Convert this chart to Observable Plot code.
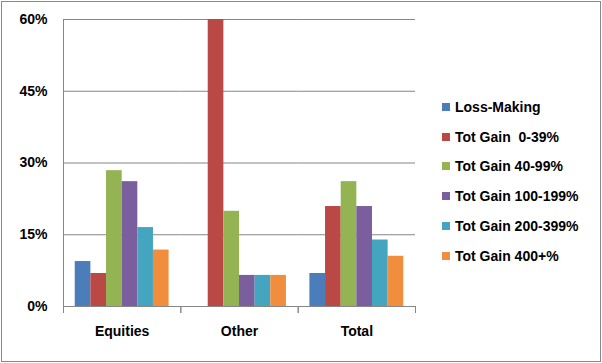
<!DOCTYPE html>
<html>
<head>
<meta charset="utf-8">
<script src="https://cdn.jsdelivr.net/npm/d3@7"></script>
<script src="https://cdn.jsdelivr.net/npm/@observablehq/plot@0.6"></script>
<style>
  html, body { margin: 0; padding: 0; background: #fff; }
  #wrap { position: relative; width: 602px; height: 363px; overflow: hidden; }
  #border { position: absolute; left: 1px; top: 1px; width: 598px; height: 359px; border: 1px solid #888; box-sizing: content-box; }
  #chart { position: absolute; left: 0; top: 0; }
  #legend { position: absolute; left: 442px; top: 92px; font-family: "Liberation Sans", Arial, sans-serif; font-size: 14px; font-weight: bold; color: #000; }
  .item { height: 29.8px; display: flex; align-items: center; white-space: pre; }
  .sw { width: 8px; height: 8px; margin-right: 5px; }
</style>
</head>
<body>
<div id="wrap">
  <div id="border"></div>
  <div id="chart"></div>
  <div id="legend"></div>
</div>
<script>
const categories = ["Equities", "Other", "Total"];
const series = ["Loss-Making", "Tot Gain  0-39%", "Tot Gain 40-99%", "Tot Gain 100-199%", "Tot Gain 200-399%", "Tot Gain 400+%"];
const equitiesValues = [9.4, 6.9, 28.4, 26.1, 16.5, 11.8];
const otherValues = [0, 60, 19.9, 6.5, 6.5, 6.5];
const totalValues = [6.9, 20.9, 26.1, 20.9, 13.9, 10.5];
const colors = ["#4A7DBA", "#BA4845", "#94B454", "#7B5E9D", "#44A5C1", "#F08E3E"];
const yTicks = [0, 15, 30, 45, 60];

const valuesByCategory = [equitiesValues, otherValues, totalValues];
const data = [];
categories.forEach((c, i) => series.forEach((s, j) => data.push({category: c, series: s, value: valuesByCategory[i][j]})));

const axisColor = "#868686";
const chart = Plot.plot({
  width: 420,
  height: 363,
  marginLeft: 63,
  marginRight: 5,
  marginTop: 19,
  marginBottom: 57,
  style: {fontFamily: "'Liberation Sans', Arial, sans-serif", fontSize: "14px", fontWeight: "bold", color: "#000", background: "transparent"},
  fx: {domain: categories, padding: 0, round: false, label: null},
  x: {domain: series, paddingInner: 0, paddingOuter: 0.75, round: false, axis: null},
  y: {domain: [0, 60], label: null},
  color: {domain: series, range: colors},
  marks: [
    Plot.ruleY(yTicks.slice(1), {stroke: axisColor, strokeWidth: 1}),
    Plot.barY(data, {fx: "category", x: "series", y: "value", fill: "series"}),
    Plot.ruleY([0], {stroke: axisColor, strokeWidth: 1}),
    Plot.frame({anchor: "left", stroke: axisColor, fx: ["Equities"]}),
    Plot.frame({anchor: "left", stroke: axisColor, insetTop: 287, insetBottom: -6}),
    Plot.frame({anchor: "right", stroke: axisColor, insetTop: 287, insetBottom: -6}),
    Plot.axisY({ticks: yTicks, tickSize: 0, tickPadding: 16, tickFormat: d => d + "%", label: null}),
    Plot.axisFx({anchor: "bottom", tickSize: 0, tickPadding: 20, label: null})
  ]
});
document.getElementById("chart").appendChild(chart);

const legend = document.getElementById("legend");
series.forEach((s, i) => {
  const row = document.createElement("div");
  row.className = "item";
  const sw = document.createElement("span");
  sw.className = "sw";
  sw.style.background = colors[i];
  const t = document.createElement("span");
  t.textContent = s;
  row.appendChild(sw);
  row.appendChild(t);
  legend.appendChild(row);
});
</script>
</body>
</html>
